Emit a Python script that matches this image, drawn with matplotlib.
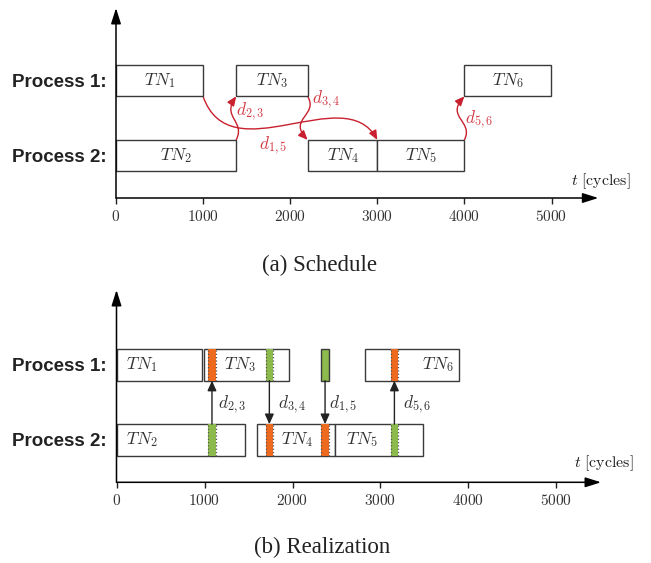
import matplotlib
matplotlib.use("Agg")
import matplotlib.pyplot as plt
from matplotlib.patches import FancyArrowPatch, Rectangle
from matplotlib.path import Path

plt.rcParams['mathtext.fontset'] = 'cm'

# ---------------- data ----------------
tasks = ['TN_1', 'TN_2', 'TN_3', 'TN_4', 'TN_5', 'TN_6']
task_proc = [1, 2, 1, 2, 2, 1]
sched_start = [0, 0, 1380, 2200, 3000, 4000]
sched_end = [1000, 1380, 2200, 3000, 4000, 5000]

real_start = [0, 0, 990, 1600, 2486, 2827]
real_end = [975, 1460, 1955, 2486, 3486, 3895]

comms = ['d_{2,3}', 'd_{3,4}', 'd_{1,5}', 'd_{5,6}']
comm_src = [2, 1, 1, 2]
comm_dst = [1, 2, 2, 1]
sched_comm_from = [1380, 2200, 1000, 4000]
sched_comm_to = [1380, 2200, 3000, 4000]
real_comm_t = [1085, 1737, 2370, 3158]

xticks = [0, 1000, 2000, 3000, 4000, 5000]
xticklabels = ['0', '1000', '2000', '3000', '4000', '5000']
proc_labels = ['Process 1:', 'Process 2:']

# ---------------- layout / style ----------------
LANE = {1: 1.565, 2: 0.565}
H = 0.42
EDGE = '#3a3a3a'
RED = '#c8202e'
RED_TXT = '#d43a45'
ORANGE = '#ee6a1f'
GREEN = '#8cba4c'
MATH_FS = 12.5

fig = plt.figure(figsize=(6.51, 5.63), dpi=100)
W, HH = 651.0, 563.0

def make_axes(left_px, axis_px, right_px, top_px, xmax, ymax):
    ax = fig.add_axes([left_px / W, (HH - axis_px) / HH,
                       (right_px - left_px) / W, (axis_px - top_px) / HH])
    ax.set_xlim(0, xmax)
    ax.set_ylim(0, ymax)
    for s in ax.spines.values():
        s.set_visible(False)
    ax.set_xticks(xticks, labels=['$%s$' % t for t in xticklabels])
    ax.tick_params(axis='x', direction='out', length=4, width=1.0,
                   pad=4, labelsize=11, color='#222', labelcolor='#333')
    ax.set_yticks([LANE[1], LANE[2]], labels=proc_labels)
    ax.tick_params(axis='y', length=0, pad=7)
    for lab in ax.get_yticklabels():
        lab.set_fontfamily('Liberation Sans')
        lab.set_fontweight('bold')
        lab.set_fontsize(13.5)
        lab.set_color('#222')
    arr = dict(arrowstyle='-|>,head_length=0.95,head_width=0.3', lw=1.1,
               color='black', shrinkA=0, shrinkB=0, mutation_scale=10)
    ax.annotate('', xy=(1, 0), xytext=(0, 0), xycoords='axes fraction',
                textcoords='axes fraction', arrowprops=arr, annotation_clip=False)
    ax.annotate('', xy=(0, 1), xytext=(0, 0), xycoords='axes fraction',
                textcoords='axes fraction', arrowprops=arr, annotation_clip=False)
    return ax

def curve(ax, p0, c1, c2, p3):
    path = Path([p0, c1, c2, p3],
                [Path.MOVETO, Path.CURVE4, Path.CURVE4, Path.CURVE4])
    a = FancyArrowPatch(path=path,
                        arrowstyle='-|>,head_length=0.55,head_width=0.24',
                        color=RED, lw=1.0, mutation_scale=10,
                        transform=ax.transData, clip_on=False)
    ax.add_patch(a)

# ---------------- (a) Schedule ----------------
ax1 = make_axes(116, 198, 598.3, 8, 482.3 / 0.0871, 190 / 75.0)
for name, p, s, e in zip(tasks, task_proc, sched_start, sched_end):
    ax1.barh(LANE[p], e - s, left=s, height=H, facecolor='white',
             edgecolor=EDGE, linewidth=1.0, zorder=2)
    ax1.text((s + e) / 2, LANE[p], '$%s$' % name, ha='center', va='center',
             fontsize=MATH_FS, color='#333', zorder=3)

top1 = LANE[1] - H / 2   # bottom edge of process 1 boxes
top2 = LANE[2] + H / 2   # top edge of process 2 boxes

# d_{2,3}: up
x = sched_comm_from[0]
curve(ax1, (x, top2), (x + 110, top2 + 0.25), (x - 170, top1 - 0.28), (x, top1))
# d_{3,4}: down
x = sched_comm_from[1]
curve(ax1, (x, top1), (x + 130, top1 - 0.25), (x - 230, top2 + 0.28), (x, top2))
# d_{1,5}: long S
x0, x3 = sched_comm_from[2], sched_comm_to[2]
curve(ax1, (x0, top1), (x0 + 310, top1 - 1.04), (x3 - 379, top2 + 0.8), (x3, top2))
# d_{5,6}: up
x = sched_comm_from[3]
curve(ax1, (x, top2), (x + 110, top2 + 0.25), (x - 220, top1 - 0.28), (x, top1))

sched_lab_pos = [(1538, 1.151), (2417, 1.307), (1802, 0.693), (4168, 1.049)]
for name, (lx, ly) in zip(comms, sched_lab_pos):
    ax1.text(lx, ly, '$%s$' % name, ha='center', va='center',
             fontsize=MATH_FS, color=RED_TXT)

ax1.text(5224, 0.227, r'$t\ [\mathrm{cycles}]$', ha='left', va='center',
         fontsize=11.5, color='#222')

# ---------------- (b) Realization ----------------
ax2 = make_axes(116.5, 482.3, 601, 290, 484.5 / 0.088, 192.3 / 75.0)
real_lab_x = [286, 290, 1403, 2055, 2786, 3653]
for name, p, s, e, lx in zip(tasks, task_proc, real_start, real_end, real_lab_x):
    ax2.barh(LANE[p], e - s, left=s, height=H, facecolor='white',
             edgecolor=EDGE, linewidth=1.0, zorder=2)
    ax2.text(lx, LANE[p], '$%s$' % name, ha='center', va='center',
             fontsize=MATH_FS, color='#333', zorder=4)

SW = 84
def strip(ax, xc, lane, color):
    y0 = LANE[lane] - H / 2
    ax.add_patch(Rectangle((xc - SW / 2, y0), SW, H, facecolor=color,
                           edgecolor='none', zorder=3))
    for xx in (xc - SW / 2, xc + SW / 2):
        ax.plot([xx, xx], [y0, y0 + H], color='#555', lw=0.9, ls=':', zorder=3.5)

for i, (name, src, dst, t) in enumerate(zip(comms, comm_src, comm_dst, real_comm_t)):
    if name == 'd_{1,5}':
        ax2.barh(LANE[src], SW, left=t - SW / 2, height=H, facecolor=GREEN,
                 edgecolor=EDGE, linewidth=1.0, zorder=3)
    else:
        strip(ax2, t, src, GREEN)
    strip(ax2, t, dst, ORANGE)
    ys = LANE[src] + (H / 2 if src == 2 else -H / 2)
    yd = LANE[dst] + (H / 2 if dst == 2 else -H / 2)
    ax2.annotate('', xy=(t, yd), xytext=(t, ys),
                 arrowprops=dict(arrowstyle='-|>,head_length=0.6,head_width=0.27',
                                 lw=1.0, color='#222', shrinkA=0, shrinkB=0,
                                 mutation_scale=10), zorder=5)

real_lab_x2 = [1153, 1835, 2415, 3252]
for name, lx in zip(comms, real_lab_x2):
    ax2.text(lx, 1.03, '$%s$' % name, ha='left', va='center',
             fontsize=MATH_FS, color='#333')

ax2.text(5199, 0.257, r'$t\ [\mathrm{cycles}]$', ha='left', va='center',
         fontsize=11.5, color='#222')

# ---------------- captions ----------------
fig.text(320 / W, 1 - 265 / HH, '(a) Schedule', ha='center', va='center',
         fontsize=16.5, family='Liberation Serif', color='#222')
fig.text(322 / W, 1 - 547 / HH, '(b) Realization', ha='center', va='center',
         fontsize=16.5, family='Liberation Serif', color='#222')

fig.savefig('out.png', dpi=100)
